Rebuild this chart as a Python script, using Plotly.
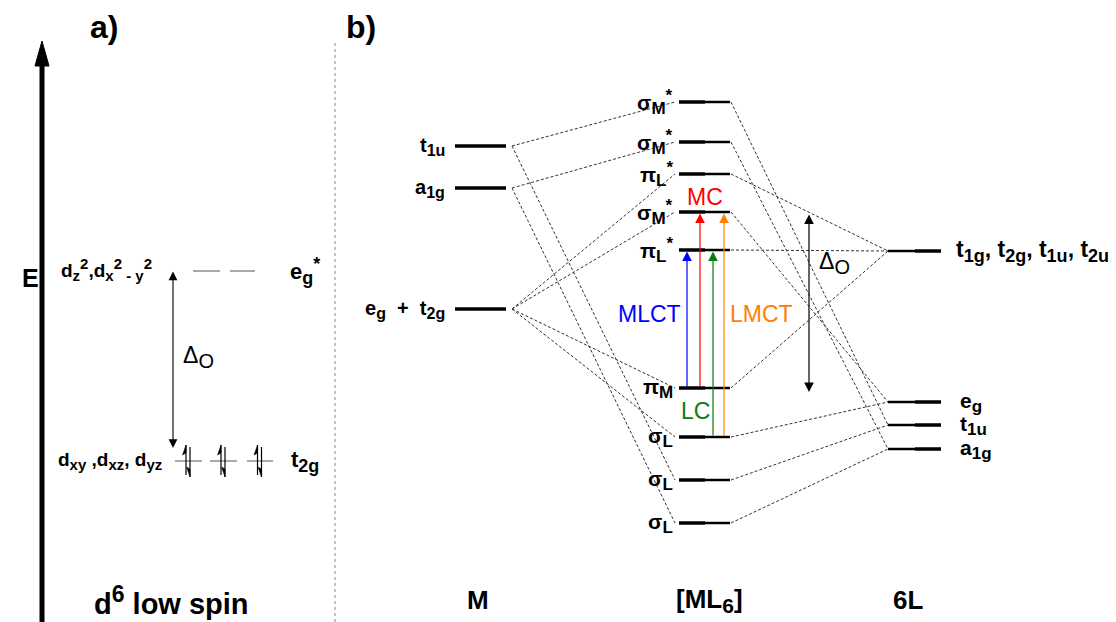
import re
import plotly.graph_objects as go

# ---- energy levels (arbitrary energy units) ----
metal_labels = ["t<sub>1u</sub>", "a<sub>1g</sub>", "e<sub>g</sub>&nbsp; + &nbsp;t<sub>2g</sub>"]
metal_E = [476, 434, 313]

complex_labels = ["σ<sub>M</sub><sup>*</sup>", "σ<sub>M</sub><sup>*</sup>", "π<sub>L</sub><sup>*</sup>",
                  "σ<sub>M</sub><sup>*</sup>", "π<sub>L</sub><sup>*</sup>", "π<sub>M</sub>",
                  "σ<sub>L</sub>", "σ<sub>L</sub>", "σ<sub>L</sub>"]
complex_E = [520, 480, 448, 410, 372, 234, 185, 142, 99]

ligand_labels = ["t<sub>1g</sub>, t<sub>2g</sub>, t<sub>1u</sub>, t<sub>2u</sub>",
                 "e<sub>g</sub>", "t<sub>1u</sub>", "a<sub>1g</sub>"]
ligand_E = [371, 220, 197, 173]

# correlation lines (metal index -> complex index, complex index -> ligand index)
metal_links = [(0, 0), (0, 7), (1, 1), (1, 8), (2, 2), (2, 3), (2, 5), (2, 6)]
ligand_links = [(0, 2), (1, 3), (2, 0), (3, 1), (4, 0), (5, 0), (6, 1), (7, 2), (8, 3)]

# electronic transitions: (from complex level, to complex level, name, colour)
transitions = [(5, 4, "MLCT", "#0000ff"), (5, 3, "MC", "#ff0000"),
               (6, 4, "LC", "#0a7d0a"), (6, 3, "LMCT", "#ff8000")]

# d6 low-spin octahedral splitting
d_labels = ["d<sub>z</sub><sup>2</sup>,d<sub>x</sub><sup>2</sup><sub> - y</sub><sup>2</sup>",
            "d<sub>xy</sub> ,d<sub>xz</sub>, d<sub>yz</sub>"]
d_terms = ["e<sub>g</sub><sup>*</sup>", "t<sub>2g</sub>"]
d_E = [351, 161]
d_electrons = [0, 6]

column_titles = ["M", "[ML<sub>6</sub>]", "6L"]

# ---- layout geometry ----
W, H = 1116, 622
FONT = "Liberation Sans, Arial, sans-serif"
M_X = (455, 506)
C_X = (679, 730)
L_X = (888, 941)
DASH = dict(color="#333333", width=1, dash="3px,2px")

fig = go.Figure()
ann = []


def seg(x0, x1, y0, y1, **line):
    fig.add_trace(go.Scatter(x=[x0, x1], y=[y0, y1], mode="lines",
                             line=line, hoverinfo="skip", showlegend=False))


def scaled_scripts(text, size, ratio):
    """Give sub/superscripts an explicit size relative to the base font."""
    px = max(1, round(size * ratio))
    return re.sub(r"<(sub|sup)>(.*?)</\1>",
                  lambda m: f"<{m[1]}><span style='font-size:{px}px'>{m[2]}</span></{m[1]}>",
                  text)


def label(x, y, text, size, xanchor="center", color="black", bold=True, ratio=0.8):
    t = scaled_scripts(text, size, ratio)
    t = f"<b>{t}</b>" if bold else t
    ann.append(dict(x=x, y=y, text=t, showarrow=False, xanchor=xanchor,
                    yanchor="middle", font=dict(family=FONT, size=size, color=color)))


# correlation lines
for mi, ci in metal_links:
    seg(M_X[1] + 6, C_X[0] - 4, metal_E[mi], complex_E[ci], **DASH)
for ci, li in ligand_links:
    seg(C_X[1] + 1, L_X[0], complex_E[ci], ligand_E[li], **DASH)

# level bars
for e in metal_E:
    seg(M_X[0], M_X[1], e, e, color="black", width=3.5)
for e in complex_E:
    seg(C_X[0], C_X[0] + 26, e, e, color="black", width=3.5)
    seg(C_X[0] + 26, C_X[1], e, e, color="black", width=2.5)
for e in ligand_E:
    seg(L_X[0], L_X[0] + 27, e, e, color="black", width=2.5)
    seg(L_X[0] + 27, L_X[1], e, e, color="black", width=3.5)

# level labels
for t, e in zip(metal_labels, metal_E):
    label(447, e, t, 20, xanchor="right")
for t, e in zip(complex_labels, complex_E):
    label(675, e, t, 21, xanchor="right")
for i, (t, e) in enumerate(zip(ligand_labels, ligand_E)):
    if i == 0:
        label(954, e, t, 23, xanchor="left")
    else:
        label(958, e, t, 21, xanchor="left")

# transitions
tx = [687, 700, 713, 724]
for (a, b, name, col), x in zip(transitions, tx):
    ann.append(dict(x=x, y=complex_E[b] - 1.5, ax=x, ay=complex_E[a], xref="x", yref="y",
                    axref="x", ayref="y", showarrow=True, arrowhead=2, arrowsize=1.6,
                    arrowwidth=1.2, arrowcolor=col, text=""))
label(649, 308, "MLCT", 23, color="#0000ff", bold=False)
label(761, 308, "LMCT", 23, color="#ff8000", bold=False)
label(705, 425, "MC", 23, color="#ff0000", bold=False)
label(695, 211, "LC", 23, color="#0a7d0a", bold=False)

# ligand-field splitting in the complex
ann.append(dict(x=809, y=230, ax=809, ay=409, xref="x", yref="y", axref="x", ayref="y",
                showarrow=True, arrowhead=2, arrowside="end+start", arrowsize=1.6,
                arrowwidth=1.2, arrowcolor="black", text=""))
label(834, 359, "Δ<sub>O</sub>", 23, bold=False, ratio=0.85)

# column titles
for x, t in zip([478, 709, 908], column_titles):
    label(x, 22, t, 26)

# ---- panel a ----
seg(42, 42, 0, 560, color="black", width=5)
fig.add_trace(go.Scatter(x=[35, 49, 42, 35], y=[556, 556, 581, 556], mode="lines",
                         fill="toself", fillcolor="black", line=dict(color="black", width=1),
                         hoverinfo="skip", showlegend=False))
label(30, 344, "E", 25)
seg(335, 335, 0, 582, color="#888888", width=1, dash="dot")

slots = [(175, 202), (210, 237), (247, 273)]
eg_slots = [(193, 220), (230, 255)]
for x0, x1 in eg_slots:
    seg(x0, x1, d_E[0], d_E[0], color="#555555", width=1)
for x0, x1 in slots:
    seg(x0, x1, d_E[1], d_E[1], color="#555555", width=1)

# paired electrons in the t2g set
pairs = d_electrons[1] // 2
for x0, x1 in slots[:pairs]:
    cx = (x0 + x1) / 2
    e = d_E[1]
    ux, dx = cx - 2.5, cx + 1.5
    seg(ux, ux, e - 14, e + 16, color="black", width=1.2)
    fig.add_trace(go.Scatter(x=[ux, ux - 3.5, ux, ux], y=[e + 16, e + 6, e + 8, e + 16],
                             mode="lines", fill="toself", fillcolor="black",
                             line=dict(color="black", width=0.5), hoverinfo="skip",
                             showlegend=False))
    seg(dx, dx, e + 14, e - 16, color="black", width=1.2)
    fig.add_trace(go.Scatter(x=[dx, dx - 3.5, dx, dx], y=[e - 16, e - 6, e - 8, e - 16],
                             mode="lines", fill="toself", fillcolor="black",
                             line=dict(color="black", width=0.5), hoverinfo="skip",
                             showlegend=False))

ann.append(dict(x=173, y=d_E[1] + 13, ax=173, ay=d_E[0] + 1, xref="x", yref="y",
                axref="x", ayref="y", showarrow=True, arrowhead=2, arrowside="end+start",
                arrowsize=1.6, arrowwidth=1.1, arrowcolor="black", text=""))
label(198, 265, "Δ<sub>O</sub>", 23, bold=False, ratio=0.85)

label(106, d_E[0] + 2, d_labels[0], 19)
label(110, d_E[1], d_labels[1], 19)
label(305, d_E[0], d_terms[0], 22)
label(305, d_E[1], d_terms[1], 22)
label(171, 22, "d<sup>6</sup> low spin", 29)

label(104, 595, "a)", 32)
label(361, 595, "b)", 32)

fig.update_layout(
    width=W, height=H, margin=dict(l=0, r=0, t=0, b=0),
    paper_bgcolor="white", plot_bgcolor="white",
    xaxis=dict(range=[0, W], visible=False, fixedrange=True),
    yaxis=dict(range=[0, H], visible=False, fixedrange=True),
    annotations=ann, showlegend=False,
)

fig.write_html("out.html")
